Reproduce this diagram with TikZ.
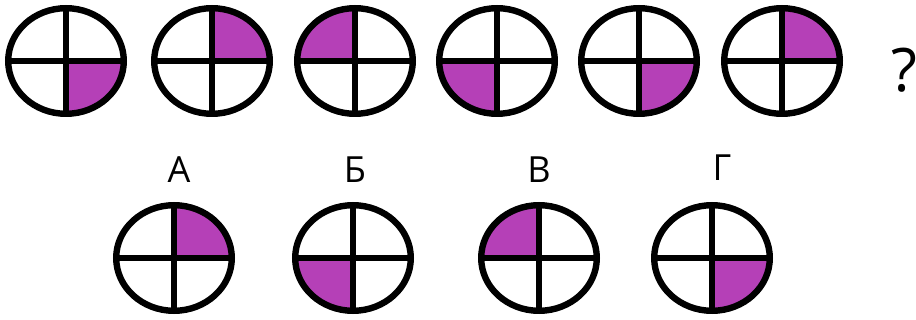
\documentclass[tikz,border=0pt]{standalone}
\usepackage{fontspec}
\setmainfont{Open Sans}
\definecolor{quad}{RGB}{181,64,183}
\newcommand{\qdisc}[4]{% name, x, y, quadrant (1=UR,2=UL,3=LL,4=LR)
  \coordinate (#1) at (#2,#3);
  \begin{scope}
    \clip (#1) ellipse [x radius=57.8, y radius=52.8];
    \ifcase#4\or
      \fill[quad] (#1) rectangle ++(70,-70);\or
      \fill[quad] (#1) rectangle ++(-70,-70);\or
      \fill[quad] (#1) rectangle ++(-70,70);\or
      \fill[quad] (#1) rectangle ++(70,70);\fi
  \end{scope}
  \draw[ring] (#1) ellipse [x radius=57.8, y radius=52.8];
  \draw[ring] (#1) ++(-57.8,0) -- ++(115.6,0);
  \draw[ring] (#1) ++(0,-52.8) -- ++(0,105.6);
}
\begin{document}
\begin{tikzpicture}[x=1pt,y=-1pt,
  ring/.style={draw=black,line width=6.4pt},
  lbl/.style={font=\fontsize{36}{40}\selectfont,inner sep=0pt,anchor=base}]
\useasboundingbox[fill=white] (0,0) rectangle (916,320);
\qdisc{t1}{66}{61}{4}
\qdisc{t2}{212}{61}{1}
\qdisc{t3}{355}{61}{2}
\qdisc{t4}{497}{61}{3}
\qdisc{t5}{639}{61}{4}
\qdisc{t6}{782}{61}{1}
\node[lbl,font=\fontsize{60}{66}\selectfont] (q) at (904,92) {?};
\qdisc{a}{174}{258}{1}
\qdisc{b}{353}{258}{3}
\qdisc{c}{539}{258}{2}
\qdisc{d}{712}{258}{4}
\node[lbl] (la) at (179,183) {А};
\node[lbl] (lb) at (355,183) {Б};
\node[lbl] (lc) at (539,183) {В};
\node[lbl] (ld) at (722,181) {Г};
\end{tikzpicture}
\end{document}
